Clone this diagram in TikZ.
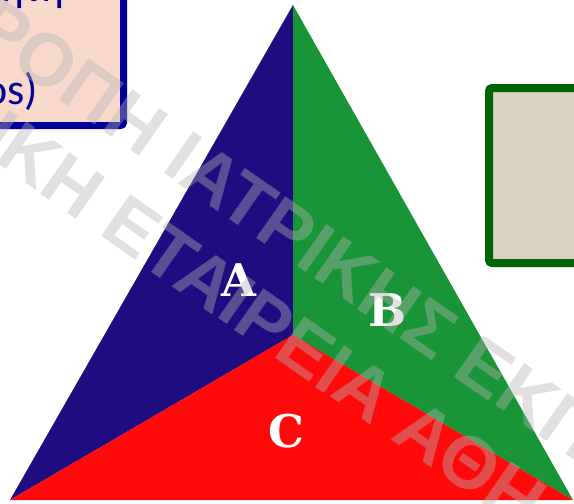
\documentclass[tikz,border=0pt]{standalone}
\usepackage{fontspec}
\newfontfamily\wmfont{Liberation Sans}
\newfontfamily\boxfont{Carlito}
\newfontfamily\abcfont{DejaVu Serif}
\definecolor{triblue}{RGB}{31,12,128}
\definecolor{trigreen}{RGB}{25,149,55}
\definecolor{trired}{RGB}{254,10,10}
\definecolor{pinkfill}{RGB}{249,217,204}
\definecolor{navyborder}{RGB}{0,0,153}
\definecolor{dkgreen}{RGB}{0,100,0}
\definecolor{beigefill}{RGB}{217,210,195}
\definecolor{wmgray}{RGB}{180,180,180}
\tikzset{
  letter/.style={text=white, font=\abcfont\bfseries\fontsize{45}{45}\selectfont, inner sep=0pt},
  watermark/.style={text=wmgray, text opacity=0.4, font=\wmfont\bfseries\fontsize{74}{74}\selectfont, rotate=-35, anchor=base west, inner sep=0pt},
  boxtext/.style={text=navyborder, font=\boxfont\fontsize{44}{44}\selectfont, inner sep=0pt, anchor=base east},
}
\begin{document}
\begin{tikzpicture}[x=1pt,y=-1pt]
\clip (0,0) rectangle (574,504);
\fill[white] (0,0) rectangle (574,504);
\coordinate (top) at (293,5);
\coordinate (bl) at (10,500);
\coordinate (br) at (573,500);
\coordinate (ctr) at (293,335);
\fill[triblue] (top) -- (ctr) -- (bl) -- cycle;
\fill[trigreen] (top) -- (br) -- (ctr) -- cycle;
\fill[trired] (bl) -- (ctr) -- (br) -- cycle;
\draw[draw=navyborder, fill=pinkfill, line width=7pt, rounded corners=3pt] (-40,-40) rectangle (123.5,125.5);
\draw[draw=dkgreen, fill=beigefill, line width=8pt, rounded corners=3pt] (489,88) rectangle (640,263);
\node[boxtext] (t1) at (64,1) {ομιλητή};
\node[boxtext] (t2) at (38,104) {(Ethos)};
\node[letter] (A) at (239,280) {A};
\node[letter] (B) at (388,310) {B};
\node[letter] (C) at (286,431) {C};
\node[watermark] (w1) at (-32,36) {ΡΟΠΗ ΙΑΤΡΙΚΗΣ ΕΚΠ};
\node[watermark] (w2) at (-24,149) {ΙΚΗ ΕΤΑΙΡΕΙΑ ΑΘΗ};
\end{tikzpicture}
\end{document}
